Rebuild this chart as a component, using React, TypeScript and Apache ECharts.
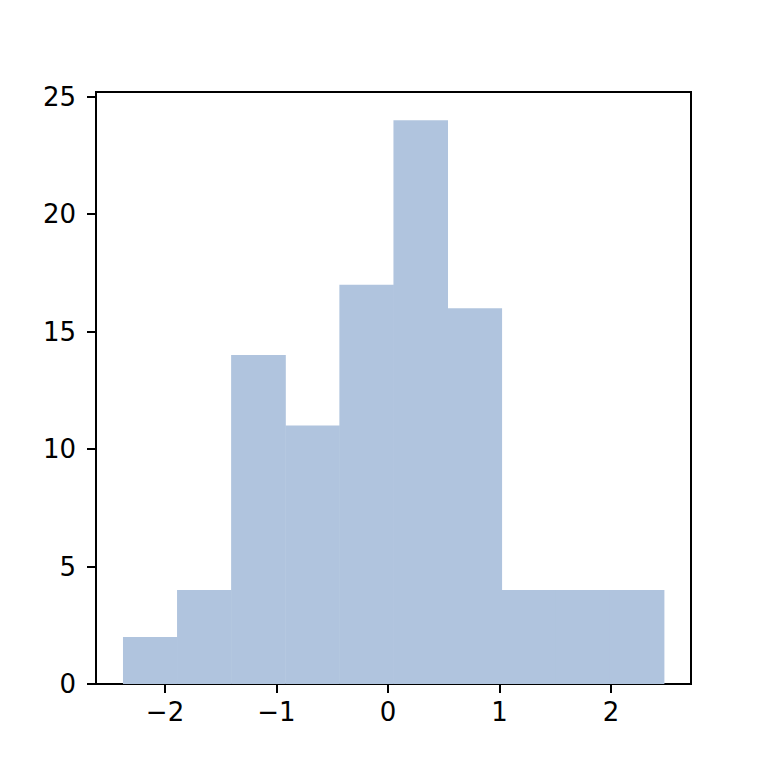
import React, { useEffect, useRef } from "react";
import * as echarts from "echarts";

const binEdges = [-2.377, -1.892, -1.407, -0.921, -0.436, 0.049, 0.534, 1.019, 1.505, 1.99, 2.475];
const counts = [2, 4, 14, 11, 17, 24, 16, 4, 4, 4];
const xTicks = [-2, -1, 0, 1, 2];
const yTicks = [0, 5, 10, 15, 20, 25];

export default function App() {
  const ref = useRef<HTMLDivElement>(null);
  useEffect(() => {
    if (!ref.current) return;
    const chart = echarts.init(ref.current, null, { renderer: "svg" });
    const data = counts.map((c, i) => [binEdges[i], binEdges[i + 1], c]);
    const font = { fontFamily: "DejaVu Sans", fontSize: 26, color: "#000" };
    chart.setOption({
      animation: false,
      backgroundColor: "#fff",
      grid: {
        left: 96,
        right: 77,
        top: 92,
        bottom: 84,
        show: true,
        borderColor: "#000",
        borderWidth: 2,
        backgroundColor: "transparent",
      },
      xAxis: {
        type: "value",
        min: -2.619,
        max: 2.718,
        axisLine: { show: false, onZero: false },
        splitLine: { show: false },
        axisTick: {
          show: true,
          length: 9,
          lineStyle: { color: "#000", width: 2 },
          customValues: xTicks,
        },
        axisLabel: {
          ...font,
          margin: 15,
          customValues: xTicks,
          formatter: (v: number) => String(v).replace("-", "\u2212"),
        },
      },
      yAxis: {
        type: "value",
        min: 0,
        max: 25.2,
        axisLine: { show: false, onZero: false },
        splitLine: { show: false },
        axisTick: {
          show: true,
          length: 9,
          lineStyle: { color: "#000", width: 2 },
          customValues: yTicks,
        },
        axisLabel: {
          ...font,
          margin: 20,
          customValues: yTicks,
        },
      },
      series: [
        {
          type: "custom",
          data,
          encode: { x: [0, 1], y: 2 },
          renderItem: (params: any, api: any) => {
            const p0 = api.coord([api.value(0), api.value(2)]);
            const p1 = api.coord([api.value(1), 0]);
            return {
              type: "rect",
              shape: { x: p0[0], y: p0[1], width: p1[0] - p0[0] + 0.5, height: p1[1] - p0[1] },
              style: { fill: "#b0c4de" },
            };
          },
        },
      ],
    });
    return () => chart.dispose();
  }, []);
  return (
    <div
      ref={ref}
      style={{ position: "fixed", left: 0, top: 0, width: 768, height: 768 }}
    />
  );
}
